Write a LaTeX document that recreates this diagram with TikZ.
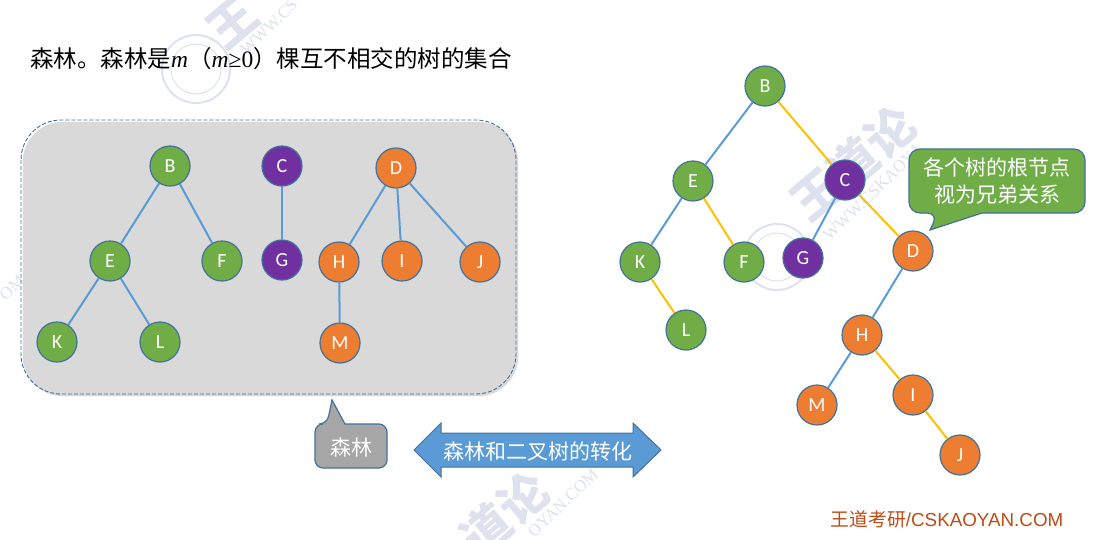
\documentclass[tikz,border=0pt]{standalone}
\usepackage{fontspec}
\setmainfont{Carlito}
\newfontfamily\cjk{Noto Sans CJK SC}
\newfontfamily\tms{Liberation Serif}
\newfontfamily\arl{Liberation Sans}
\definecolor{nicegreen}{RGB}{112, 173, 71}
\definecolor{nicepurple}{RGB}{112, 48, 160}
\definecolor{niceorange}{RGB}{237, 125, 49}
\definecolor{niceblue}{RGB}{91, 155, 213}
\definecolor{niceyellow}{RGB}{255, 192, 0}
\definecolor{niceline}{RGB}{65, 113, 156}
\definecolor{lgray}{RGB}{217, 217, 217}
\definecolor{mgray}{RGB}{166, 166, 166}
\definecolor{footred}{RGB}{190, 75, 20}
\definecolor{wmark}{RGB}{222, 225, 238}
\tikzset{
	tnode/.style = {circle, draw = niceline, line width = 1.2pt, minimum size = 40pt, inner sep = 0pt, text = white, font = \fontsize{20}{22}\selectfont},
	bl/.style = {niceblue, line width = 2pt},
	yl/.style = {niceyellow, line width = 2pt},
	cn/.style = {text = white, inner sep = 0pt, align = center, font = \fontsize{21}{27}\selectfont\cjk},
	wm/.style = {text = wmark, inner sep = 0pt, font = \fontsize{17}{19}\selectfont\tms},
	wb/.style = {text = wmark, inner sep = 0pt, font = \fontsize{48}{50}\selectfont\cjk\bfseries}
}
\begin{document}
\begin{tikzpicture}[x = 1pt, y = -1pt]
	\useasboundingbox (0,0) rectangle (1103,539);
	% watermark
	\node (w1) at (853,163) [wb, rotate = 40] {王道论};
	\node (w2) at (873,192) [wm, rotate = 44] {WWW.CSKAOYA};
	\node (w3) at (232,22) [wb, rotate = 40] {王};
	\node (w4) at (243,52) [wm, rotate = 44, anchor = west] {WWW.CS};
	\node (w5) at (505,514) [wb, rotate = 40] {道论};
	\node (w6) at (563,503) [wm, rotate = 44] {OYAN.COM};
	\node (w7) at (12,288) [wm, rotate = 44] {OM};
	\draw [wmark, line width = 2pt] (196,69) circle (34pt);
	\draw [wmark, line width = 1pt] (196,69) circle (25pt);
	\draw [wmark, line width = 2pt] (777,257) circle (33pt);
	\draw [wmark, line width = 1pt] (777,257) circle (24pt);
	% title
	\node (title) at (30,59) [anchor = west, inner sep = 0pt, font = \fontsize{23.5}{25}\selectfont\cjk] {森林。森林是{\tms\itshape m}（{\tms\itshape m}{\tms ≥0}）棵互不相交的树的集合};
	% forest
	\draw [fill = lgray, draw = lgray, rounded corners = 40pt] (23,122) rectangle (518,396);
	\draw [niceline, line width = 0.9pt, dash pattern = on 4pt off 2pt, rounded corners = 40pt] (21,120) rectangle (516,394);
	\node (b) at (170,166) [tnode, fill = nicegreen] {B};
	\node (e) at (110,261) [tnode, fill = nicegreen] {E};
	\node (f) at (222,261) [tnode, fill = nicegreen] {F};
	\node (k) at (57,342) [tnode, fill = nicegreen] {K};
	\node (l) at (160,342) [tnode, fill = nicegreen] {L};
	\node (c) at (282,166) [tnode, fill = nicepurple] {C};
	\node (g) at (282,260) [tnode, fill = nicepurple] {G};
	\node (d) at (396,168) [tnode, fill = niceorange] {D};
	\node (h) at (339,262) [tnode, fill = niceorange] {H};
	\node (i) at (402,261) [tnode, fill = niceorange] {I};
	\node (j) at (480,262) [tnode, fill = niceorange] {J};
	\node (m) at (340,343) [tnode, fill = niceorange] {M};
	\draw [bl] (b) edge (e);
	\draw [bl] (b) edge (f);
	\draw [bl] (e) edge (k);
	\draw [bl] (e) edge (l);
	\draw [bl] (c) edge (g);
	\draw [bl] (d) edge (h);
	\draw [bl] (d) edge (i);
	\draw [bl] (d) edge (j);
	\draw [bl] (h) edge (m);
	% binary tree
	\node (bb) at (765,86) [tnode, fill = nicegreen] {B};
	\node (be) at (693,181) [tnode, fill = nicegreen] {E};
	\node (bf) at (744,262) [tnode, fill = nicegreen] {F};
	\node (bk) at (640,262) [tnode, fill = nicegreen] {K};
	\node (bl) at (686,330) [tnode, fill = nicegreen] {L};
	\node (bc) at (845,180) [tnode, fill = nicepurple] {C};
	\node (bg) at (803,258) [tnode, fill = nicepurple] {G};
	\node (bd) at (913,251) [tnode, fill = niceorange] {D};
	\node (bh) at (862,335) [tnode, fill = niceorange] {H};
	\node (bi) at (913,395) [tnode, fill = niceorange] {I};
	\node (bj) at (960,455) [tnode, fill = niceorange] {J};
	\node (bm) at (817,405) [tnode, fill = niceorange] {M};
	\draw [bl] (bb) edge (be);
	\draw [bl] (be) edge (bk);
	\draw [bl] (bc) edge (bg);
	\draw [bl] (bd) edge (bh);
	\draw [bl] (bh) edge (bm);
	\draw [yl] (bb) edge (bc);
	\draw [yl] (bc) edge (bd);
	\draw [yl] (be) edge (bf);
	\draw [yl] (bk) edge (bl);
	\draw [yl] (bh) edge (bi);
	\draw [yl] (bi) edge (bj);
	% callouts
	\draw [fill = mgray, draw = niceline, line width = 1.2pt] (345,424) [rounded corners = 8pt] -- (387,424) -- (387,468) -- (315,468) -- (315,424) -- (327,424) [sharp corners] -- (332,400) -- cycle;
	\node (forest) at (351,447) [cn] {森林};
	\draw [fill = nicegreen, draw = niceline, line width = 1.2pt] (982,213) [rounded corners = 11pt] -- (1085,213) -- (1085,149) -- (909,149) -- (909,213) -- (938,213) [sharp corners] -- (930,230) -- cycle;
	\node (roots) at (997,181) [cn] {各个树的根节点\\视为兄弟关系};
	% double arrow
	\draw [fill = niceblue, draw = niceline, line width = 1pt] (414,450) -- (441,423) -- (441,433) -- (633,433) -- (633,423) -- (661,450) -- (633,477) -- (633,467) -- (441,467) -- (441,477) -- cycle;
	\node (convert) at (538,451) [cn] {森林和二叉树的转化};
	% footer
	\node (foot) at (947,519) [inner sep = 0pt, text = footred, font = \fontsize{18.8}{20}\selectfont\arl] {{\cjk 王道考研}/CSKAOYAN.COM};
\end{tikzpicture}
\end{document}
